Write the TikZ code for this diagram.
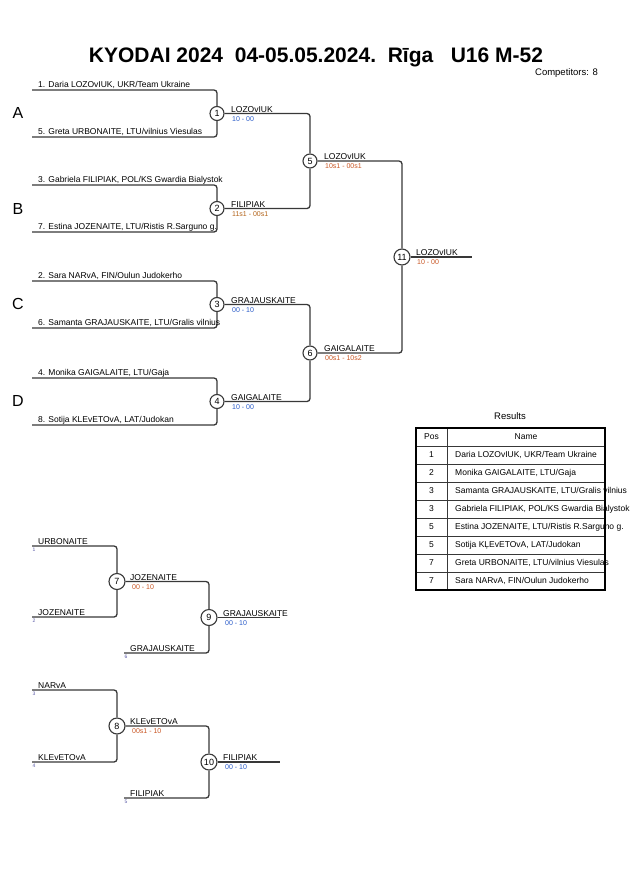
\documentclass[tikz,border=0pt]{standalone}
\usepackage{fontspec}
\setmainfont{Liberation Sans}
\usepackage{tikz}
\usetikzlibrary{positioning}

\definecolor{bracketline}{gray}{0.22}
\definecolor{scoreblue}{RGB}{40,90,200}
\definecolor{scorered}{RGB}{200,85,35}

\begin{document}
\begin{tikzpicture}[
      x=1pt, y=-1pt,
      bline/.style={draw=bracketline, line width=1.3pt, rounded corners=3pt},
      match/.style={circle, draw=bracketline, line width=1.1pt, fill=white,
        minimum size=14pt, inner sep=0pt, font=\fontsize{9}{9}\selectfont},
      comp/.style={anchor=south west, inner sep=1pt, font=\fontsize{8.5}{9}\selectfont},
      score/.style={anchor=north west, inner sep=1pt, font=\fontsize{7}{7}\selectfont},
      seed/.style={anchor=north west, inner sep=0.3pt, text=gray!70!blue, font=\fontsize{5}{5}\selectfont},
      pool/.style={font=\fontsize{16}{16}\selectfont},
      cell/.style={inner sep=1pt, font=\fontsize{8.5}{9}\selectfont}
    ]
      \useasboundingbox (0,0) rectangle (630,891);

      % header
      \node[font=\fontsize{21}{21}\selectfont\bfseries] (title) at (316,57)
        {KYODAI 2024\ \ 04-05.05.2024.\ \ Rīga\ \ \ U16 M-52};
      \node[anchor=east, inner sep=0pt, font=\fontsize{9.5}{9.5}\selectfont] (count) at (598,73) {Competitors: 8};

      % pools
      \node[pool] (poolA) at (18,113) {A};
      \node[pool] (poolB) at (18,209) {B};
      \node[pool] (poolC) at (18,304) {C};
      \node[pool] (poolD) at (18,401) {D};

      % first round
      \foreach \m/\y in {1/113.5, 2/208.5, 3/304.5, 4/401.5} {
        \coordinate (t\m) at (32,\y-23.5);
        \coordinate (b\m) at (32,\y+23.5);
        \node[match] (m\m) at (217,\y) {\m};
        \draw[bline] (t\m) -| (m\m);
        \draw[bline] (b\m) -| (m\m);
      }
      \node[comp] (c1) at (37,90) {1. Daria LOZOvIUK, UKR/Team Ukraine};
      \node[comp] (c5) at (37,137) {5. Greta URBONAITE, LTU/vilnius Viesulas};
      \node[comp] (c3) at (37,185) {3. Gabriela FILIPIAK, POL/KS Gwardia Bialystok};
      \node[comp] (c7) at (37,232) {7. Estina JOZENAITE, LTU/Ristis R.Sarguno g.};
      \node[comp] (c2) at (37,281) {2. Sara NARvA, FIN/Oulun Judokerho};
      \node[comp] (c6) at (37,328) {6. Samanta GRAJAUSKAITE, LTU/Gralis vilnius};
      \node[comp] (c4) at (37,378) {4. Monika GAIGALAITE, LTU/Gaja};
      \node[comp] (c8) at (37,425) {8. Sotija KLEvETOvA, LAT/Judokan};

      % second round and final
      \node[match] (m5) at (310,161) {5};
      \node[match] (m6) at (310,353) {6};
      \node[match, minimum size=16pt] (m11) at (402,257) {11};
      \coordinate (f11) at (472,257);
      \draw[bline] (m1) -| (m5);
      \draw[bline] (m2) -| (m5);
      \draw[bline] (m3) -| (m6);
      \draw[bline] (m4) -| (m6);
      \draw[bline] (m5) -| (m11);
      \draw[bline] (m6) -| (m11);
      \draw[bline] (m11) -- (f11);

      \node[comp] (w1) at (230,113.5) {LOZOvIUK};
      \node[score, text=scoreblue] (s1) at (231,115) {10 - 00};
      \node[comp] (w2) at (230,208.5) {FILIPIAK};
      \node[score, text=scorered!70!olive] (s2) at (231,210) {11s1 - 00s1};
      \node[comp] (w3) at (230,304.5) {GRAJAUSKAITE};
      \node[score, text=scoreblue] (s3) at (231,306) {00 - 10};
      \node[comp] (w4) at (230,401.5) {GAIGALAITE};
      \node[score, text=scoreblue] (s4) at (231,403) {10 - 00};
      \node[comp] (w5) at (323,161) {LOZOvIUK};
      \node[score, text=scorered] (s5) at (324,162.5) {10s1 - 00s1};
      \node[comp] (w6) at (323,353) {GAIGALAITE};
      \node[score, text=scorered] (s6) at (324,354.5) {00s1 - 10s2};
      \node[comp] (w11) at (415,257) {LOZOvIUK};
      \node[score, text=scorered] (s11) at (416,258.5) {10 - 00};

      % results
      \node[font=\fontsize{9.5}{9.5}\selectfont] (results) at (510,416) {Results};
      \foreach \r in {1,...,8} {
        \draw[bracketline, line width=0.7pt] (416,428+18*\r) -- (605,428+18*\r);
      }
      \draw[bracketline, line width=0.7pt] (447,428) -- (447,590);
      \draw[black, line width=1.5pt] (416,428) rectangle (605,590);
      \node[cell] (poshead) at (431.5,437) {Pos};
      \node[cell] (namehead) at (526,437) {Name};
      \foreach \r/\p/\n in {1/1/{Daria LOZOvIUK, UKR/Team Ukraine},
          2/2/{Monika GAIGALAITE, LTU/Gaja},
          3/3/{Samanta GRAJAUSKAITE, LTU/Gralis vilnius},
          4/3/{Gabriela FILIPIAK, POL/KS Gwardia Bialystok},
          5/5/{Estina JOZENAITE, LTU/Ristis R.Sarguno g.},
          6/5/{Sotija KĻEvETOvA, LAT/Judokan},
          7/7/{Greta URBONAITE, LTU/vilnius Viesulas},
          8/7/{Sara NARvA, FIN/Oulun Judokerho}} {
        \node[cell] (pos\r) at (431.5,437+18*\r) {\p};
        \node[cell, anchor=west] (name\r) at (454,437+18*\r) {\n};
      }

      % repechage
      \coordinate (r1) at (32,546);
      \coordinate (r2) at (32,617);
      \coordinate (r6) at (124,653);
      \coordinate (r3) at (32,690);
      \coordinate (r4) at (32,762);
      \coordinate (r5) at (124,798);
      \node[match, minimum size=16pt] (m7) at (117,581.5) {7};
      \node[match, minimum size=16pt] (m9) at (209,617.5) {9};
      \node[match, minimum size=16pt] (m8) at (117,726) {8};
      \node[match, minimum size=16pt] (m10) at (209,762) {10};
      \coordinate (f9) at (280,617.5);
      \coordinate (f10) at (280,762);
      \draw[bline] (r1) -| (m7);
      \draw[bline] (r2) -| (m7);
      \draw[bline] (m7) -| (m9);
      \draw[bline] (r6) -| (m9);
      \draw[bline] (m9) -- (f9);
      \draw[bline] (r3) -| (m8);
      \draw[bline] (r4) -| (m8);
      \draw[bline] (m8) -| (m10);
      \draw[bline] (r5) -| (m10);
      \draw[bline] (m10) -- (f10);

      \node[comp] (rc1) at (37,546) {URBONAITE};
      \node[seed] (sd1) at (32,547.5) {1};
      \node[comp] (rc2) at (37,617) {JOZENAITE};
      \node[seed] (sd2) at (32,618.5) {2};
      \node[comp] (rc6) at (129,653) {GRAJAUSKAITE};
      \node[seed] (sd6) at (124,654.5) {6};
      \node[comp] (w7) at (129,581.5) {JOZENAITE};
      \node[score, text=scorered] (s7) at (131,583) {00 - 10};
      \node[comp] (w9) at (222,617.5) {GRAJAUSKAITE};
      \node[score, text=scoreblue] (s9) at (224,619) {00 - 10};

      \node[comp] (rc3) at (37,690) {NARvA};
      \node[seed] (sd3) at (32,691.5) {3};
      \node[comp] (rc4) at (37,762) {KLEvETOvA};
      \node[seed] (sd4) at (32,763.5) {4};
      \node[comp] (rc5) at (129,798) {FILIPIAK};
      \node[seed] (sd5) at (124,799.5) {5};
      \node[comp] (w8) at (129,726) {KLEvETOvA};
      \node[score, text=scorered] (s8) at (131,727.5) {00s1 - 10};
      \node[comp] (w10) at (222,762) {FILIPIAK};
      \node[score, text=scoreblue] (s10) at (224,763.5) {00 - 10};
    \end{tikzpicture}
\end{document}
